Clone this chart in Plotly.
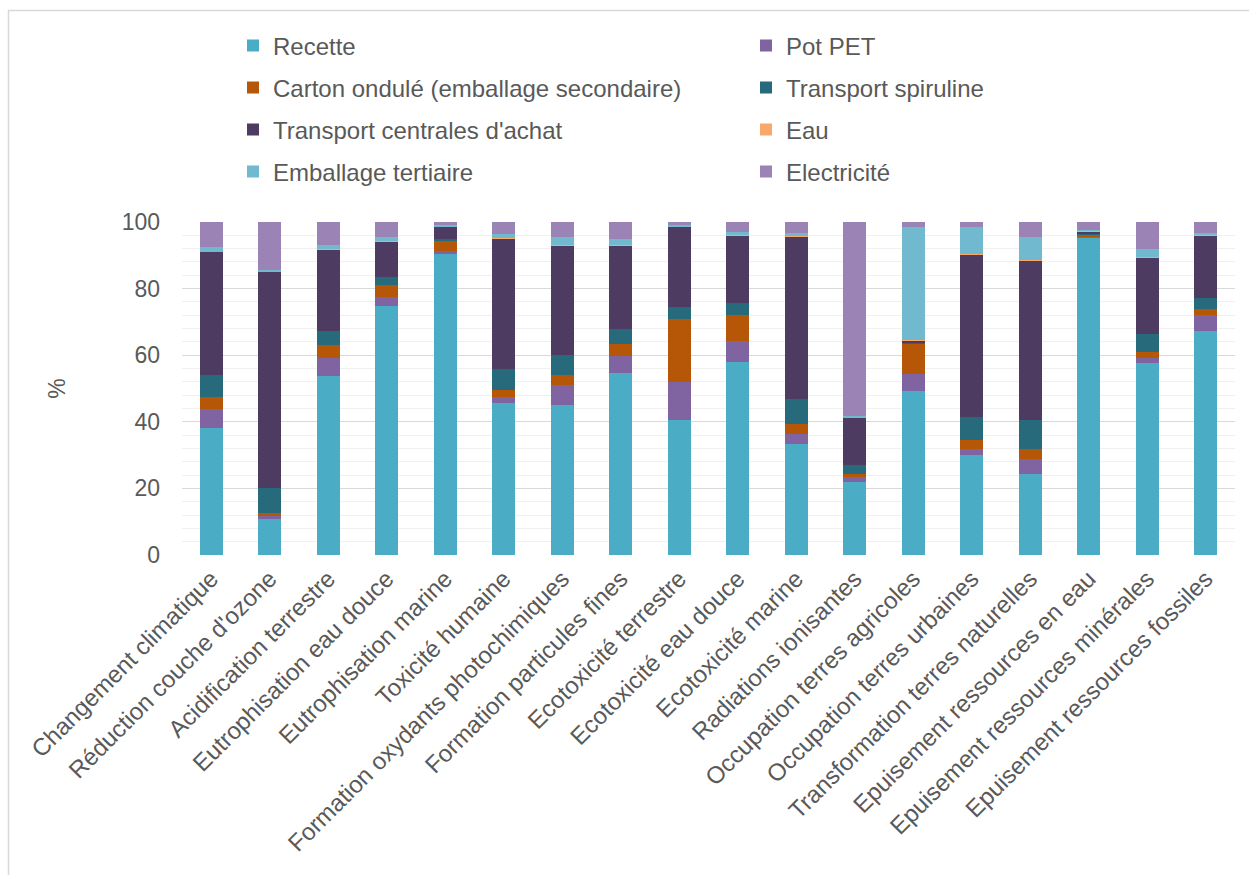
import plotly.graph_objects as go

categories = [
    "Changement climatique", "Réduction couche d'ozone", "Acidification terrestre",
    "Eutrophisation eau douce", "Eutrophisation marine", "Toxicité humaine",
    "Formation oxydants photochimiques", "Formation particules fines",
    "Ecotoxicité terrestre", "Ecotoxicité eau douce", "Ecotoxicité marine",
    "Radiations ionisantes", "Occupation terres agricoles", "Occupation terres urbaines",
    "Transformation terres naturelles", "Epuisement ressources en eau",
    "Epuisement ressources minérales", "Epuisement ressources fossiles",
]

recette = [38.2, 10.8, 53.8, 74.7, 90.5, 45.5, 45.0, 54.7, 40.5, 57.9, 33.2, 21.9, 49.4, 29.9, 24.3, 95.4, 57.6, 67.4]
pot_pet = [5.5, 0.9, 5.3, 2.8, 0.9, 1.8, 6.0, 5.1, 11.4, 6.3, 3.2, 1.6, 5.1, 2.0, 4.4, 0.3, 1.5, 4.6]
carton = [3.6, 0.8, 3.9, 3.5, 2.9, 2.4, 3.2, 3.5, 19.1, 7.8, 2.9, 0.8, 9.0, 2.6, 3.2, 0.4, 2.0, 1.8]
transport_spiruline = [6.7, 7.5, 4.2, 2.4, 0.6, 6.3, 5.8, 4.6, 3.5, 3.6, 7.4, 2.6, 0.3, 7.0, 8.5, 0.3, 5.4, 3.4]
transport_centrales = [37.0, 65.1, 24.5, 10.7, 3.7, 39.0, 32.9, 25.1, 24.1, 20.3, 48.9, 14.3, 0.7, 48.8, 48.0, 0.6, 22.9, 18.7]
eau = [0.1, 0.05, 0.1, 0.1, 0.1, 0.2, 0.1, 0.1, 0.05, 0.1, 0.1, 0.05, 0.1, 0.1, 0.1, 0.4, 0.1, 0.1]
emballage_tertiaire = [1.4, 0.3, 1.4, 1.3, 0.4, 1.1, 2.4, 1.9, 0.5, 1.0, 1.0, 0.4, 33.9, 8.0, 7.0, 0.2, 2.3, 0.8]
electricite = [7.5, 14.5, 6.8, 4.5, 0.9, 3.7, 4.6, 5.0, 0.8, 3.0, 3.3, 58.3, 1.5, 1.6, 4.5, 2.3, 8.2, 3.2]

series_names = ["Recette", "Pot PET", "Carton ondulé (emballage secondaire)", "Transport spiruline",
                "Transport centrales d'achat", "Eau", "Emballage tertiaire", "Electricité"]
series_values = [recette, pot_pet, carton, transport_spiruline, transport_centrales, eau,
                 emballage_tertiaire, electricite]
colors = ["#4BACC6", "#8064A2", "#B65708", "#276A7C", "#4D3B62", "#F9A86A", "#71B9CF", "#9B83B5"]

FONT = "Liberation Sans, Arial, sans-serif"
TXT = "#595959"
FS = 23
W, H = 1249, 875
L, R, T, B = 182, 14, 222, 320
pw, ph = W - L - R, H - T - B

def px_x(x):
    return (x - L) / pw

def px_y(y):
    return (H - B - y) / ph

fig = go.Figure()
legend_layouts = {}
col_x = [px_x(233), px_x(746)]
row_y = [46, 88, 130, 172]
for i, (name, vals, col) in enumerate(zip(series_names, series_values, colors)):
    lname = "legend" if i == 0 else f"legend{i+1}"
    fig.add_trace(go.Bar(
        x=categories, y=vals, name=name, marker=dict(color=col, line=dict(width=0)),
        legend=lname, showlegend=True,
    ))
    legend_layouts[lname] = dict(
        x=col_x[i % 2], y=px_y(row_y[i // 2]), xanchor="left", yanchor="middle",
        orientation="h", bgcolor="rgba(0,0,0,0)", borderwidth=0,
        font=dict(family=FONT, size=24, color=TXT),
    )

fig.update_layout(
    barmode="stack",
    bargap=0.6,
    showlegend=True,
    width=W, height=H,
    margin=dict(l=L, r=R, t=T, b=B, pad=0, autoexpand=False),
    paper_bgcolor="white", plot_bgcolor="white",
    font=dict(family=FONT, size=FS, color=TXT),
    xaxis=dict(
        tickangle=-45, showgrid=False, showline=False, ticks="",
        tickfont=dict(family=FONT, size=24, color=TXT),
        ticklabelstandoff=4,
    ),
    yaxis=dict(
        range=[0, 100], dtick=20, tick0=0, showline=False, ticks="",
        gridcolor="#D9D9D9", gridwidth=1.3, zeroline=False,
        minor=dict(dtick=4, showgrid=True, gridcolor="#F0F0F0", gridwidth=1),
        tickfont=dict(family=FONT, size=FS, color=TXT),
        ticklabelstandoff=21,
        title=dict(text="%", font=dict(family=FONT, size=FS, color=TXT), standoff=49),
    ),
    shapes=[dict(
        type="rect", xref="paper", yref="paper",
        x0=px_x(8.5), x1=px_x(1400), y0=px_y(1000), y1=px_y(10.5),
        line=dict(color="#D9D9D9", width=1.5), fillcolor="rgba(0,0,0,0)", layer="below",
    )],
    **legend_layouts,
)

fig.write_html("out.html", config={"displayModeBar": False},
               post_script="document.body.style.margin='0';")
